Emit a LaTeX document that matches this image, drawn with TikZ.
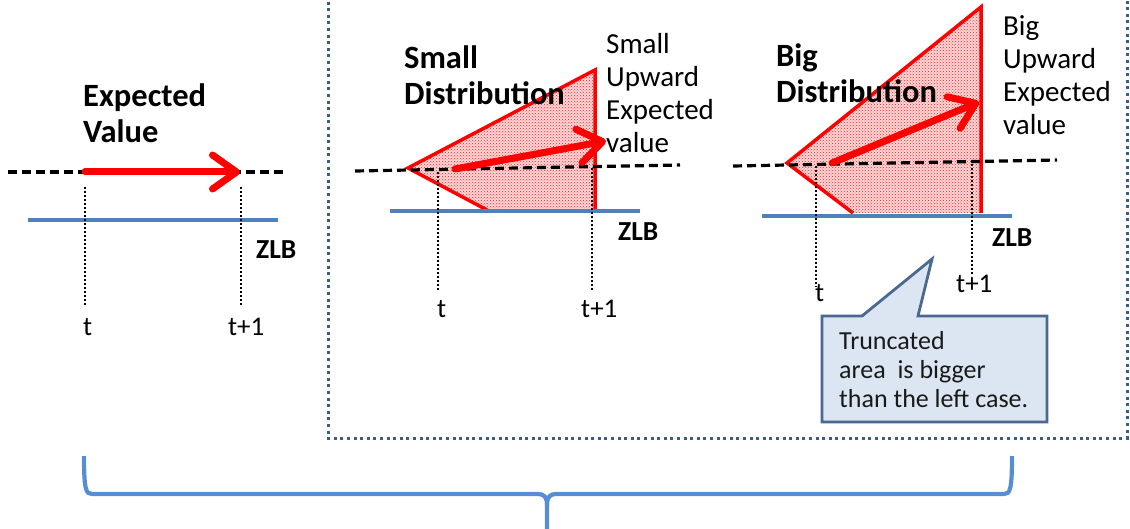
\documentclass[tikz,border=0pt]{standalone}
\usepackage{fontspec}
\setmainfont{Carlito}
\usetikzlibrary{arrows.meta,patterns,positioning}
\definecolor{zlbblue}{HTML}{4F81BD}
\definecolor{framenavy}{HTML}{385D8A}
\definecolor{bracesky}{HTML}{558ED5}
\definecolor{notefill}{HTML}{DCE6F2}
\definecolor{noteedge}{HTML}{4A6890}
\definecolor{distred}{HTML}{FF0000}
\tikzset{
  titlelbl/.style={font=\fontsize{32.5}{36}\selectfont\bfseries, align=left, anchor=base west, inner sep=0pt},
  sidelbl/.style={font=\fontsize{29}{33}\selectfont, align=left, anchor=base west, inner sep=0pt},
  timelbl/.style={font=\fontsize{27}{30}\selectfont, anchor=base west, inner sep=0pt},
  zlblbl/.style={font=\fontsize{27.5}{30}\selectfont\bfseries, anchor=base west, inner sep=0pt},
  notelbl/.style={font=\fontsize{26}{29}\selectfont, align=left, anchor=base west, inner sep=0pt, text=black!90},
  meanline/.style={line width=3.2pt, dash pattern=on 9pt off 5pt},
  zlbline/.style={draw=zlbblue, line width=3.2pt},
  guide/.style={line width=1.8pt, dash pattern=on 1.8pt off 2.2pt},
  drift/.style={-{Straight Barb[length=24pt, width=34pt, round]}, draw=distred, line width=7pt, line cap=round},
  distfill/.style={fill=red!16, postaction={pattern=crosshatch dots, pattern color=red!85}},
  distedge/.style={draw=distred, line width=3.5pt, line join=miter},
  callout/.style={draw=noteedge, fill=notefill, line width=2.8pt, line join=miter}
}
\begin{document}
\begin{tikzpicture}[x=1pt, y=-1pt]
\useasboundingbox (0,0) rectangle (1130,529);
\clip (0,0) rectangle (1130,529);

% frame round the two distributions
\draw[framenavy, line width=3pt, dash pattern=on 3pt off 3.6pt] (328,-5) -- (328,438) -- (1127,438) -- (1127,-5);

% left: expected value only
\coordinate (evA) at (85,172);
\coordinate (evB) at (240,172);
\draw[meanline] (8,172) -- (285,172);
\draw[zlbline] (28,220) -- (278,220);
\draw[guide] (85,187) -- (85,305);
\draw[guide] (241,187) -- (241,305);
\draw[drift] (evA) -- (evB);
\node[titlelbl] (evtitle) at (83,143) {Expected\\Value};
\node[zlblbl] (zlbA) at (256,259) {ZLB};
\node[timelbl] (tA) at (83,336) {t};
\node[timelbl] (t1A) at (228,336) {t+1};

% middle: small distribution
\coordinate (smA) at (455,169);
\coordinate (smB) at (606,141);
\path[distfill] (408,168) -- (595,70) -- (595,210) -- (487,210) -- cycle;
\draw[distedge] (487,210) -- (408,168) -- (595,70) -- (595,210);
\draw[meanline] (355,171) -- (680,165);
\draw[zlbline] (390,211) -- (640,211);
\draw[guide] (438,172) -- (438,290);
\draw[guide] (592,168) -- (592,290);
\draw[drift] (smA) -- (smB);
\node[titlelbl] (smtitle) at (404,105) {Small\\Distribution};
\node[sidelbl] (smnote) at (606,153) {Small\\Upward\\Expected\\value};
\node[zlblbl] (zlbB) at (618,241) {ZLB};
\node[timelbl] (tB) at (437,318) {t};
\node[timelbl] (t1B) at (581,318) {t+1};

% right: big distribution
\coordinate (bgA) at (832,163);
\coordinate (bgB) at (979,102);
\path[distfill] (787,163) -- (981,7) -- (981,213) -- (853,213) -- cycle;
\draw[distedge] (853,213) -- (787,163) -- (981,7) -- (981,213);
\draw[meanline] (733,166) -- (1057,160);
\draw[zlbline] (762,216) -- (1012,216);
\draw[guide] (816,166) -- (816,287);
\draw[guide] (972,164) -- (972,274);
\draw[drift] (bgA) -- (bgB);
\node[titlelbl] (bgtitle) at (776,103) {Big\\Distribution};
\node[sidelbl] (bgnote) at (1003,135) {Big\\Upward\\Expected\\value};
\node[zlblbl] (zlbC) at (992,247) {ZLB};
\node[timelbl] (tC) at (815,302) {t};
\node[timelbl] (t1C) at (956,293) {t+1};

% callout
\draw[callout] (822,316) -- (862,316) -- (932,259) -- (918,316) -- (1047,316)
  -- (1047,422) -- (822,422) -- cycle;
\node[notelbl] (trunc) at (839,407) {Truncated\\area~ is bigger\\than the left case.};

% brace
\draw[bracesky, line width=4.2pt] (84,456) .. controls (84,490) and (86,494) .. (92,494)
  -- (538,494) .. controls (544,494) and (547,497) .. (547,505) -- (547,529);
\draw[bracesky, line width=4.2pt] (1012,456) .. controls (1012,490) and (1010,494) .. (1004,494)
  -- (556,494) .. controls (550,494) and (547,497) .. (547,505);
\end{tikzpicture}
\end{document}
